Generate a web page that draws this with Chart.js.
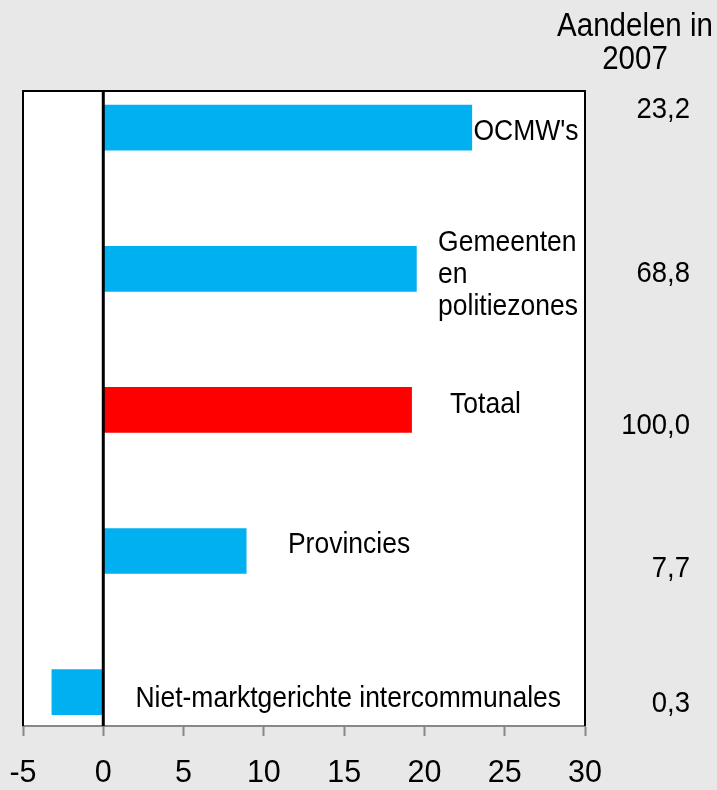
<!DOCTYPE html>
<html><head><meta charset="utf-8">
<script src="https://cdn.jsdelivr.net/npm/chart.js@4"></script>
<style>html,body{margin:0;padding:0;background:#e8e8e8;} canvas{display:block}</style>
</head><body>
<canvas id="c" width="717" height="790"></canvas>
<script>
// ---- data ----
const categories = ["OCMW's", "Gemeenten en politiezones", "Totaal", "Provincies", "Niet-marktgerichte intercommunales"];
const categoryLabelLines = [["OCMW's"], ["Gemeenten", "en", "politiezones"], ["Totaal"], ["Provincies"], ["Niet-marktgerichte intercommunales"]];
const growth = [22.95, 19.5, 19.2, 8.9, -3.2];
const shares2007 = ["23,2", "68,8", "100,0", "7,7", "0,3"];
const shareHeader = ["Aandelen in", "2007"];
const xMin = -5, xMax = 30, xStep = 5;

// ---- styling / layout ----
const BLUE = '#00b0f0', RED = '#ff0000';
const barColors = categories.map(c => c === 'Totaal' ? RED : BLUE);
const FONT = '"Liberation Sans", Arial, Helvetica, sans-serif';
const labelAnchor = [23.05, 20.85, 21.6, 11.5, 2.0]; // axis units
const labelDy = [4.5, 6.5, -5, -6.5, 7];
const shareDy = [-18.5, 5, 16, 17.5, 11.5];

Chart.defaults.font.family = FONT;
Chart.defaults.color = '#000';

function txt(ctx, s, x, y, align, size, sy) {
  ctx.save();
  ctx.font = size + 'px ' + FONT;
  ctx.textAlign = align;
  ctx.textBaseline = 'middle';
  ctx.fillStyle = '#000';
  ctx.translate(x, y);
  ctx.scale(1, sy || 1.1);
  ctx.fillText(s, 0, 0);
  ctx.restore();
}

const deco = {
  id: 'deco',
  beforeDraw(chart) {
    const { ctx, chartArea: a } = chart;
    ctx.save();
    ctx.fillStyle = '#e8e8e8';
    ctx.fillRect(0, 0, chart.width, chart.height);
    ctx.fillStyle = '#ffffff';
    ctx.fillRect(a.left, a.top, a.right - a.left, a.bottom - a.top);
    ctx.restore();
  },
  afterDatasetsDraw(chart) {
    const { ctx, chartArea: a, scales } = chart;
    const x0 = scales.x.getPixelForValue(0);
    ctx.save();
    ctx.strokeStyle = '#000';
    ctx.lineWidth = 3;
    ctx.beginPath();
    ctx.moveTo(x0, a.top);
    ctx.lineTo(x0, a.bottom);
    ctx.stroke();
    ctx.lineWidth = 2;
    ctx.beginPath();
    ctx.moveTo(a.left, a.bottom);
    ctx.lineTo(a.left, a.top);
    ctx.lineTo(a.right, a.top);
    ctx.lineTo(a.right, a.bottom);
    ctx.stroke();
    ctx.restore();
  },
  afterDraw(chart) {
    const { ctx, chartArea: a, scales } = chart;
    const lh = 32;
    categoryLabelLines.forEach((lines, i) => {
      const x = scales.x.getPixelForValue(labelAnchor[i]);
      const yc = scales.y.getPixelForValue(i) + labelDy[i];
      lines.forEach((s, k) => {
        const y = yc + (k - (lines.length - 1) / 2) * lh;
        txt(ctx, s, x, y, 'left', 26.5);
      });
      txt(ctx, shares2007[i], a.right + 105, scales.y.getPixelForValue(i) + shareDy[i], 'right', 27.5);
    });
    txt(ctx, shareHeader[0], a.right + 50, 27, 'center', 29.5);
    txt(ctx, shareHeader[1], a.right + 50, 60, 'center', 29.5);
    // x tick labels, positioned by the library's scale
    scales.x.ticks.forEach(t => {
      txt(ctx, String(t.value), scales.x.getPixelForValue(t.value), a.bottom + 47, 'center', 30.5, 1.05);
    });
  }
};

new Chart(document.getElementById('c'), {
  type: 'bar',
  data: {
    datasets: [{
      data: growth.map((v, i) => ({ x: v, y: i })),
      backgroundColor: barColors,
      borderWidth: 0,
      barThickness: 45
    }]
  },
  options: {
    indexAxis: 'y',
    responsive: false,
    animation: false,
    devicePixelRatio: 1,
    layout: { padding: { left: 23, right: 132, top: 91, bottom: 0 } },
    plugins: { legend: { display: false }, tooltip: { enabled: false } },
    scales: {
      y: {
        type: 'linear', reverse: true, min: -0.26, max: 4.24, offset: false, display: false,
        grid: { offset: false }
      },
      x: {
        type: 'linear', position: 'bottom', min: xMin, max: xMax,
        ticks: { stepSize: xStep, display: false },
        grid: { drawOnChartArea: false, drawTicks: true, tickLength: 10, tickColor: '#888', tickWidth: 2 },
        border: { display: true, color: '#888', width: 2 },
        afterFit(s) { s.height = 64; s.paddingLeft = 0; s.paddingRight = 0; }
      }
    }
  },
  plugins: [deco]
});
</script>
</body></html>
